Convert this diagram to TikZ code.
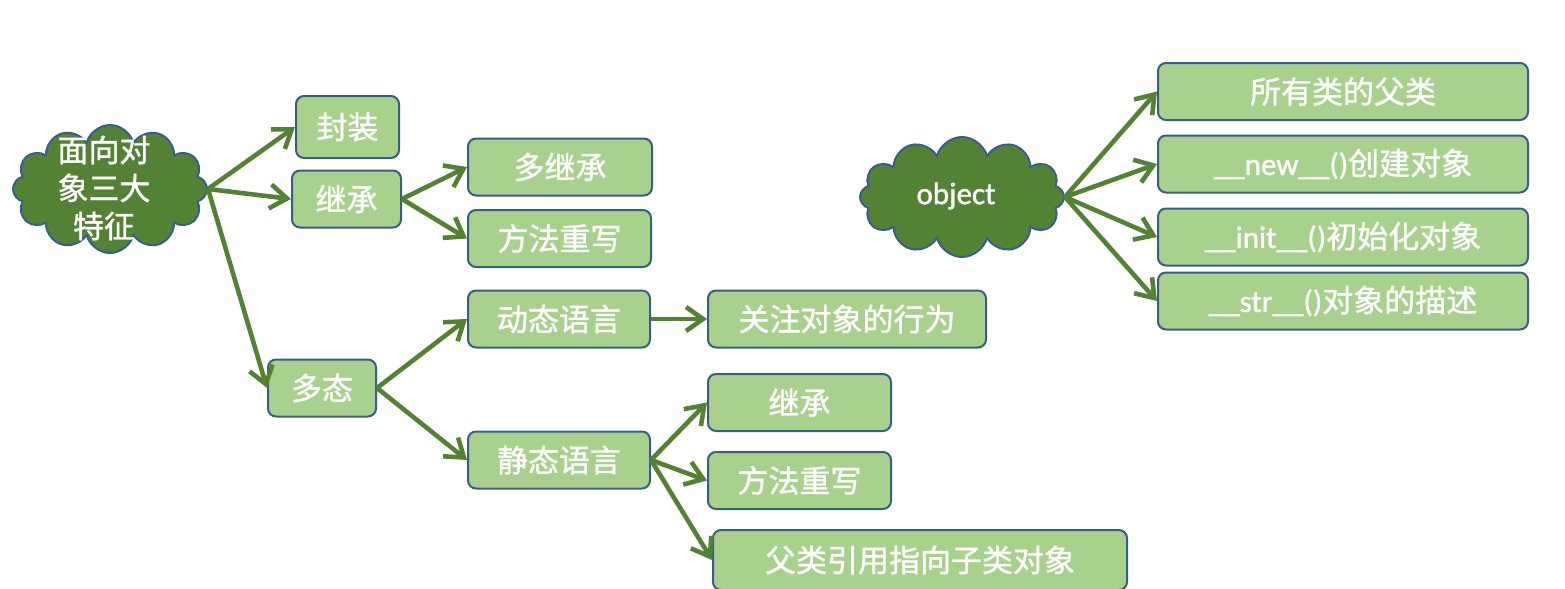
\documentclass[tikz,border=0pt]{standalone}
\usepackage{fontspec}
\setmainfont{Noto Sans CJK SC}[FakeBold=1.2]
\newfontfamily\latin{Carlito}[FakeBold=1.2]
\usetikzlibrary{arrows.meta,shapes.symbols}
\definecolor{leafgreen}{HTML}{A9D18E}
\definecolor{darkgreen}{HTML}{548235}
\definecolor{edgeblue}{HTML}{385D8A}

\begin{document}
\begin{tikzpicture}[
    x=0.5pt,y=-0.5pt,
    every node/.style={font=\fontsize{15.5}{19}\selectfont,text=white,align=center},
    leaf/.style={draw=edgeblue,line width=1pt,fill=leafgreen,rounded corners=4pt,
      minimum height=28.5pt,inner sep=0pt},
    puff/.style={cloud,cloud puffs=12,cloud ignores aspect,draw=edgeblue,
      line width=1pt,fill=darkgreen,inner sep=0pt},
    link/.style={-{Straight Barb[length=8.5pt,width=12pt]},darkgreen,line width=2.3pt}
  ]
    \useasboundingbox (0,0) rectangle (1565,589);

    % left tree
    \node[puff,minimum width=97pt,minimum height=64pt] (feature) at (110,189) {};
    \node (featuretext) at (104,188) {面向对\\象三大\\特征};
    \node[leaf,minimum width=51.5pt,minimum height=31pt] (encap) at (347.5,127) {封装};
    \node[leaf,minimum width=54.5pt] (inherit) at (346.5,199) {继承};
    \node[leaf,minimum width=92pt] (multi) at (560,167) {多继承};
    \node[leaf,minimum width=91.5pt] (override) at (559.5,238.5) {方法重写};
    \node[leaf,minimum width=54pt] (poly) at (322,388) {多态};
    \node[leaf,minimum width=91pt] (dynamic) at (559,319) {动态语言};
    \node[leaf,minimum width=139pt] (behaviour) at (847,319) {关注对象的行为};
    \node[leaf,minimum width=91pt] (static) at (559,460) {静态语言};
    \node[leaf,minimum width=91.5pt] (sinherit) at (799.5,402.5) {继承};
    \node[leaf,minimum width=91.5pt] (soverride) at (799.5,480.5) {方法重写};
    \node[leaf,minimum width=207pt,minimum height=30pt] (parentref) at (920,560)
      {父类引用指向子类对象};

    % right tree
    \node[puff,minimum width=102pt,minimum height=60pt] (object) at (962,197) {};
    \node (objecttext) at (956,196) {\latin object};
    \node[leaf,minimum width=185pt] (base) at (1343,91.5) {所有类的父类};
    \node[leaf,minimum width=185pt] (new) at (1343,164) {{\latin \_\_new\_\_()}创建对象};
    \node[leaf,minimum width=185pt] (init) at (1343,237) {{\latin \_\_init\_\_()}初始化对象};
    \node[leaf,minimum width=185pt] (str) at (1343,301) {{\latin \_\_str\_\_()}对象的描述};

    \draw[link] (feature.east) -- (encap.west);
    \draw[link] (feature.east) -- (inherit.west);
    \draw[link] (feature.east) -- (poly.west);
    \draw[link] (inherit.east) -- (multi.west);
    \draw[link] (inherit.east) -- (override.west);
    \draw[link] (poly.east) -- (dynamic.west);
    \draw[link] (poly.east) -- (static.west);
    \draw[link] (dynamic.east) -- (behaviour.west);
    \draw[link] (static.east) -- (sinherit.west);
    \draw[link] (static.east) -- (soverride.west);
    \draw[link] (static.east) -- (parentref.west);
    \draw[link] (object.east) -- (base.west);
    \draw[link] (object.east) -- (new.west);
    \draw[link] (object.east) -- (init.west);
    \draw[link] (object.east) -- (str.west);
  \end{tikzpicture}
\end{document}
